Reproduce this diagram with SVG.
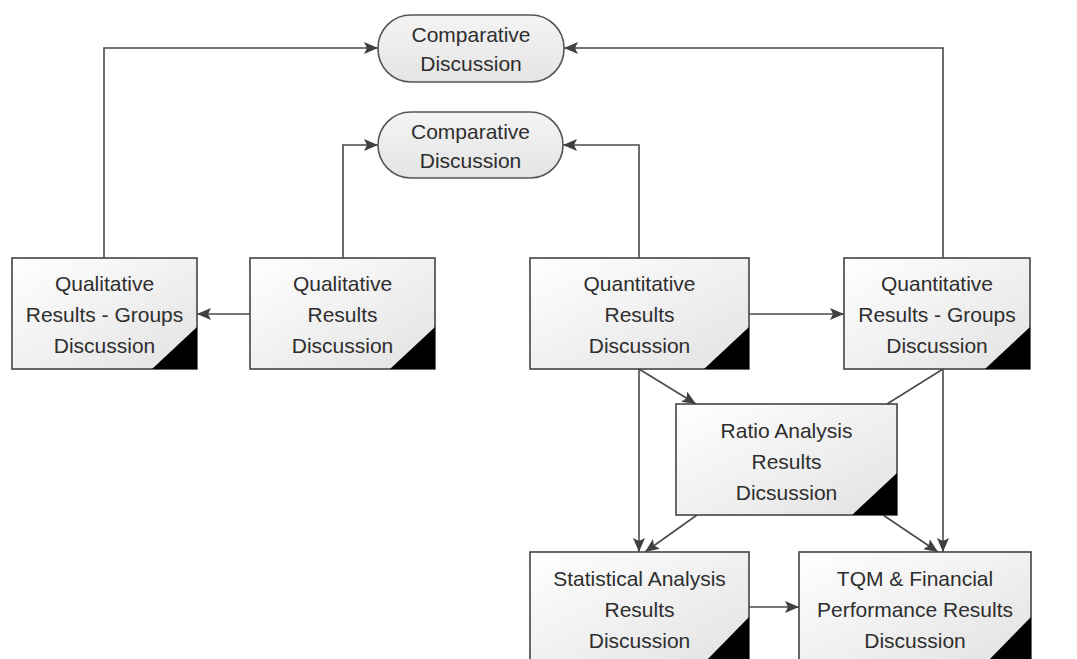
<svg xmlns="http://www.w3.org/2000/svg" width="1077" height="659" viewBox="0 0 1077 659">
  <defs>
    <linearGradient id="boxFill" x1="0" y1="0" x2="1" y2="1">
      <stop offset="0" stop-color="#ffffff"/>
      <stop offset="1" stop-color="#e2e2e2"/>
    </linearGradient>
    <linearGradient id="termFill" x1="0" y1="0" x2="0" y2="1">
      <stop offset="0" stop-color="#f4f4f4"/>
      <stop offset="1" stop-color="#e4e4e4"/>
    </linearGradient>
    <marker id="arrow" viewBox="0 0 14 12" refX="14" refY="6" markerWidth="14" markerHeight="12" markerUnits="userSpaceOnUse" orient="auto">
      <path d="M0,0 L14,6 L0,12 L3,6 z" fill="#404040"/>
    </marker>
  </defs>
  <style>
    .box { fill: url(#boxFill); stroke: #444; stroke-width: 1.6; }
    .term { fill: url(#termFill); stroke: #555; stroke-width: 1.6; }
    .corner { fill: #000; }
    .label { font-family: "Liberation Sans", Arial, sans-serif; font-size: 21px; fill: #2e2e2e; text-anchor: middle; dominant-baseline: central; }
    .conn { fill: none; stroke: #4a4a4a; stroke-width: 1.6; }
    .arr { marker-end: url(#arrow); }
  </style>
  <rect width="1077" height="659" fill="#ffffff"/>

  <!-- connectors -->
  <g id="connectors">
    <polyline class="conn arr" points="104,258 104,48 378,48"/>
    <polyline class="conn arr" points="943,258 943,48 564,48"/>
    <polyline class="conn arr" points="343,258 343,145 378,145"/>
    <polyline class="conn arr" points="639,258 639,145 563,145"/>
    <line class="conn arr" x1="250" y1="314" x2="197" y2="314"/>
    <line class="conn arr" x1="749" y1="314" x2="844" y2="314"/>
    <line class="conn arr" x1="639" y1="369" x2="639" y2="552"/>
    <line class="conn arr" x1="639" y1="369" x2="696" y2="404"/>
    <line class="conn" x1="943" y1="369" x2="887" y2="404"/>
    <line class="conn arr" x1="943" y1="369" x2="943" y2="552"/>
    <line class="conn arr" x1="697" y1="515" x2="645" y2="552"/>
    <line class="conn arr" x1="883" y1="515" x2="938" y2="552"/>
    <line class="conn arr" x1="749" y1="607" x2="799" y2="607"/>
  </g>

  <!-- terminators -->
  <g id="comparative-top">
    <rect class="term" x="378" y="15" width="186" height="67" rx="33" ry="33"/>
    <text class="label" x="471" y="34">Comparative</text>
    <text class="label" x="471" y="63">Discussion</text>
  </g>
  <g id="comparative-mid">
    <rect class="term" x="378" y="112" width="185" height="66" rx="33" ry="33"/>
    <text class="label" x="470.5" y="131">Comparative</text>
    <text class="label" x="470.5" y="160">Discussion</text>
  </g>

  <!-- process boxes -->
  <g id="qual-groups">
    <rect class="box" x="12" y="258" width="185" height="111"/>
    <path class="corner" d="M152,369 L197,327 L197,369 z"/>
    <text class="label" x="104.5" y="283">Qualitative</text>
    <text class="label" x="104.5" y="314">Results - Groups</text>
    <text class="label" x="104.5" y="345">Discussion</text>
  </g>
  <g id="qual-results">
    <rect class="box" x="250" y="258" width="185" height="111"/>
    <path class="corner" d="M390,369 L435,327 L435,369 z"/>
    <text class="label" x="342.5" y="283">Qualitative</text>
    <text class="label" x="342.5" y="314">Results</text>
    <text class="label" x="342.5" y="345">Discussion</text>
  </g>
  <g id="quant-results">
    <rect class="box" x="530" y="258" width="219" height="111"/>
    <path class="corner" d="M704,369 L749,327 L749,369 z"/>
    <text class="label" x="639.5" y="283">Quantitative</text>
    <text class="label" x="639.5" y="314">Results</text>
    <text class="label" x="639.5" y="345">Discussion</text>
  </g>
  <g id="quant-groups">
    <rect class="box" x="844" y="258" width="186" height="111"/>
    <path class="corner" d="M985,369 L1030,327 L1030,369 z"/>
    <text class="label" x="937" y="283">Quantitative</text>
    <text class="label" x="937" y="314">Results - Groups</text>
    <text class="label" x="937" y="345">Discussion</text>
  </g>
  <g id="ratio-analysis">
    <rect class="box" x="676" y="404" width="221" height="111"/>
    <path class="corner" d="M852,515 L897,473 L897,515 z"/>
    <text class="label" x="786.5" y="430">Ratio Analysis</text>
    <text class="label" x="786.5" y="461">Results</text>
    <text class="label" x="786.5" y="492">Dicsussion</text>
  </g>
  <g id="statistical-analysis">
    <rect class="box" x="530" y="552" width="219" height="111"/>
    <path class="corner" d="M704,663 L749,617 L749,663 z"/>
    <text class="label" x="639.5" y="578">Statistical Analysis</text>
    <text class="label" x="639.5" y="609">Results</text>
    <text class="label" x="639.5" y="640">Discussion</text>
  </g>
  <g id="tqm-performance">
    <rect class="box" x="799" y="552" width="232" height="111"/>
    <path class="corner" d="M986,663 L1031,617 L1031,663 z"/>
    <text class="label" x="915" y="578">TQM &amp; Financial</text>
    <text class="label" x="915" y="609">Performance Results</text>
    <text class="label" x="915" y="640">Discussion</text>
  </g>
</svg>
